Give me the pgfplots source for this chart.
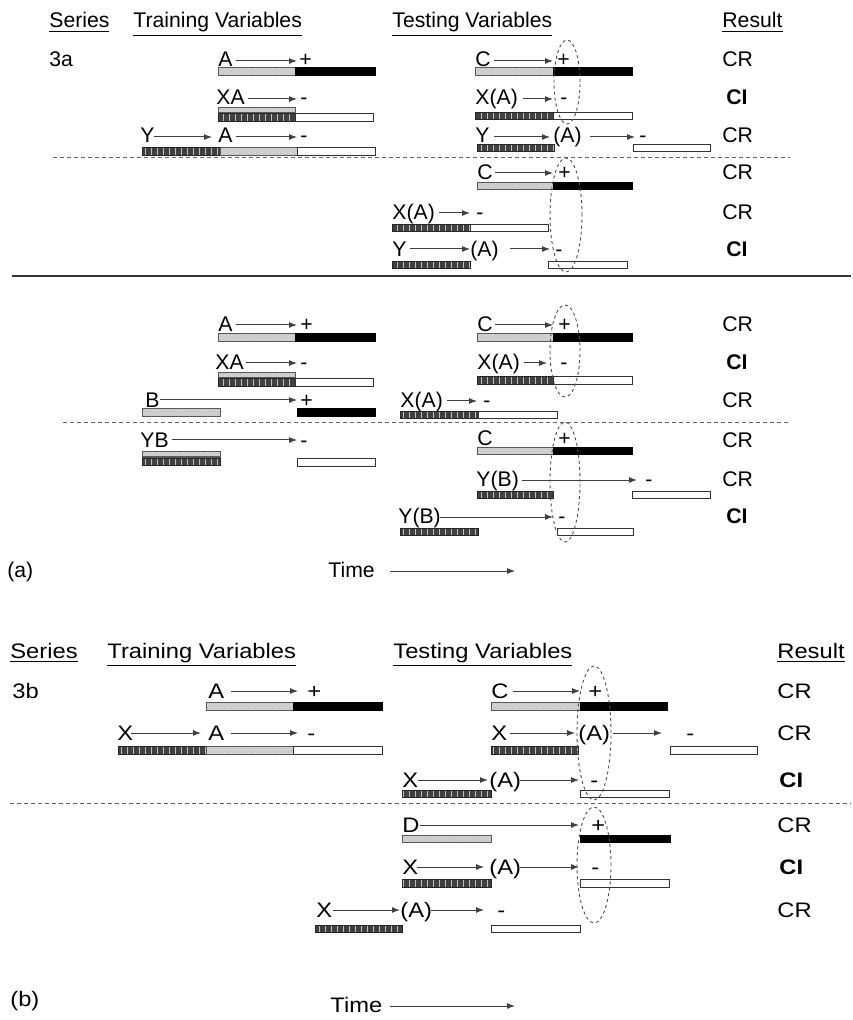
\documentclass[border=0pt]{standalone}
\usepackage{pgfplots}
\pgfplotsset{compat=1.18}
\usepackage{graphicx}
\usepackage{fontspec}
\setmainfont{Liberation Sans}
\usetikzlibrary{patterns,arrows.meta}
\tikzset{oval/.style={black!70, dash pattern=on 1.5pt off 1.5pt, line width=0.45pt}}

% text for panel (a) and the wider panel (b)
\newcommand{\ta}[3]{\node[anchor=base west,inner sep=0pt,font=\fontsize{10.6}{12}\selectfont] at (axis cs:#1,#2) {#3};}
\newcommand{\tb}[3]{\node[anchor=base west,inner sep=0pt,font=\fontsize{10.5}{12}\selectfont] at (axis cs:#1,#2) {\scalebox{1.13}[1]{#3}};}
% bar: style, x1, x2, y1, y2
\newcommand{\bx}[5]{\addplot[#1] coordinates {(#2,#4) (#3,#4) (#3,#5) (#2,#5)} -- cycle;}
% arrow: x1, x2, y
\newcommand{\ar}[3]{\addplot[arr] coordinates {(#1,#3) (#2,#3)};}

\begin{document}
\begin{tikzpicture}
\begin{axis}[
  scale only axis, width=425.5pt, height=510pt,
  xmin=0, xmax=851, ymin=0, ymax=1020, y dir=reverse,
  hide axis, clip=false, no markers,
  lbar/.style={draw=black!65, fill=black!20, line width=0.5pt,
    postaction={pattern=crosshatch dots, pattern color=white!85!black}},
  dbar/.style={draw=black!85, fill=black!75, line width=0.5pt,
    postaction={pattern=vertical lines, pattern color=white!75!black}},
  bbar/.style={draw=black, fill=black, line width=0.5pt},
  wbar/.style={draw=black!80, fill=white, line width=0.5pt},
  arr/.style={black!75, line width=0.5pt, -{Latex[length=4pt,width=3pt]}},
  sep/.style={black!60, dash pattern=on 2pt off 1.5pt, line width=0.5pt},
]
\addplot[draw=none] coordinates {(0,0) (851,1020)};

%% ---------------- panel (a) ----------------
\ta{49}{28}{\underline{Series}}
\ta{133}{28}{\underline{Training Variables}}
\ta{392}{28}{\underline{Testing Variables}}
\ta{722}{28}{\underline{Result}}
\ta{49}{67}{3a}

% row 1
\ta{218}{67}{A} \ar{236}{297}{61} \ta{299}{67}{+}
\bx{lbar}{218}{295}{68}{76} \bx{bbar}{295}{375}{68}{76}
\ta{475}{67}{C} \ar{494}{553}{61} \ta{557}{67}{+}
\bx{lbar}{475}{553}{68}{76} \bx{bbar}{553}{632}{68}{76}
\ta{722}{67}{CR}
% row 2
\ta{216}{105}{XA} \ar{248}{297}{99} \ta{300}{105}{-}
\bx{lbar}{218}{295}{108}{113} \bx{dbar}{218}{295}{114}{122} \bx{wbar}{295}{373}{114}{122}
\ta{475}{105}{X(A)} \ar{523}{553}{99} \ta{560}{105}{-}
\bx{dbar}{475}{553}{113}{120} \bx{wbar}{553}{632}{113}{120}
\ta{726}{105}{\bfseries CI}
% row 3
\ta{140}{143}{Y} \ar{154}{212}{137} \ta{218}{143}{A} \ar{236}{297}{137} \ta{300}{143}{-}
\bx{dbar}{142}{220}{148}{156} \bx{lbar}{220}{297}{148}{156} \bx{wbar}{297}{375}{148}{156}
\ta{475}{143}{Y} \ar{494}{550}{137} \ta{553}{143}{(A)} \ar{590}{635}{137} \ta{639}{143}{-}
\bx{dbar}{477}{554}{145}{152} \bx{wbar}{633}{710}{145}{152}
\ta{722}{143}{CR}

\addplot[sep] coordinates {(53,158) (790,158)};

% row 4
\ta{477}{180}{C} \ar{495}{553}{173} \ta{558}{180}{+}
\bx{lbar}{477}{553}{183}{190} \bx{bbar}{553}{632}{183}{190}
\ta{722}{180}{CR}
% row 5
\ta{392}{220}{X(A)} \ar{439}{470}{213} \ta{476}{220}{-}
\bx{dbar}{392}{470}{225}{232} \bx{wbar}{470}{548}{225}{232}
\ta{722}{220}{CR}
% row 6
\ta{392}{257}{Y} \ar{410}{470}{249} \ta{470}{257}{(A)} \ar{510}{550}{249} \ta{555}{257}{-}
\bx{dbar}{392}{470}{262}{269} \bx{wbar}{548}{627}{262}{269}
\ta{726}{257}{\bfseries CI}

\draw[oval] (axis cs:567,82) ellipse [x radius=6.5pt, y radius=21pt];
\draw[oval] (axis cs:566,215) ellipse [x radius=8pt, y radius=28.5pt];

\addplot[black!80, line width=1pt] coordinates {(12,276) (851,276)};

% row 7
\ta{218}{332}{A} \ar{236}{297}{325} \ta{300}{332}{+}
\bx{lbar}{218}{295}{334}{342} \bx{bbar}{295}{375}{334}{342}
\ta{477}{332}{C} \ar{495}{553}{325} \ta{558}{332}{+}
\bx{lbar}{477}{553}{334}{342} \bx{bbar}{553}{632}{334}{342}
\ta{722}{332}{CR}
% row 8
\ta{215}{370}{XA} \ar{246}{297}{363} \ta{300}{370}{-}
\bx{lbar}{218}{295}{373}{378} \bx{dbar}{218}{295}{379}{387} \bx{wbar}{295}{373}{379}{387}
\ta{477}{370}{X(A)} \ar{524}{547}{363} \ta{560}{370}{-}
\bx{dbar}{477}{553}{377}{385} \bx{wbar}{553}{632}{377}{385}
\ta{726}{370}{\bfseries CI}
% row 9
\ta{145}{408}{B} \ar{160}{297}{400} \ta{300}{408}{+}
\bx{lbar}{142}{220}{409}{417} \bx{bbar}{297}{375}{409}{417}
\ta{400}{408}{X(A)} \ar{447}{477}{401} \ta{483}{408}{-}
\bx{dbar}{400}{478}{412}{419} \bx{wbar}{478}{557}{412}{419}
\ta{722}{408}{CR}

\addplot[sep] coordinates {(63,423) (790,423)};

% row 10
\ta{140}{447}{YB} \ar{172}{297}{440} \ta{300}{447}{-}
\bx{lbar}{142}{220}{452}{457} \bx{dbar}{142}{220}{458}{465} \bx{wbar}{297}{375}{458}{466}
\ta{477}{445}{C} \ta{558}{445}{+}
\bx{lbar}{477}{553}{448}{455} \bx{bbar}{553}{632}{448}{455}
\ta{722}{447}{CR}
% row 11
\ta{476}{487}{Y(B)} \ar{522}{637}{480} \ta{645}{487}{-}
\bx{dbar}{477}{553}{491}{498} \bx{wbar}{632}{710}{491}{498}
\ta{722}{487}{CR}
% row 12
\ta{398}{523}{Y(B)} \ar{440}{553}{517} \ta{558}{523}{-}
\bx{dbar}{400}{478}{528}{535} \bx{wbar}{557}{633}{528}{535}
\ta{726}{523}{\bfseries CI}

\draw[oval] (axis cs:565,351) ellipse [x radius=7.5pt, y radius=23pt];
\draw[oval] (axis cs:565,482) ellipse [x radius=7.5pt, y radius=30pt];

\ta{7}{577}{(a)}
\ta{328}{577}{Time}
\ar{390}{515}{571}

%% ---------------- panel (b) ----------------
\tb{10}{658}{\underline{Series}}
\tb{107}{658}{\underline{Training Variables}}
\tb{393}{658}{\underline{Testing Variables}}
\tb{777}{658}{\underline{Result}}
\tb{12}{698}{3b}

% row 1
\tb{208}{698}{A} \ar{231}{298}{691} \tb{307}{698}{+}
\bx{lbar}{206}{293}{702}{710} \bx{bbar}{293}{382}{702}{710}
\tb{491}{698}{C} \ar{513}{580}{691} \tb{588}{698}{+}
\bx{lbar}{491}{580}{702}{710} \bx{bbar}{580}{667}{702}{710}
\tb{777}{698}{CR}
% row 2
\tb{117}{740}{X} \ar{131}{201}{733} \tb{208}{740}{A} \ar{231}{298}{733} \tb{307}{740}{-}
\bx{dbar}{118}{206}{746}{754} \bx{lbar}{206}{293}{746}{754} \bx{wbar}{293}{382}{746}{754}
\tb{491}{740}{X} \ar{510}{575}{733} \tb{578}{740}{(A)} \ar{613}{662}{733} \tb{686}{740}{-}
\bx{dbar}{491}{578}{746}{754} \bx{wbar}{670}{757}{746}{754}
\tb{777}{740}{CR}
% row 3
\tb{402}{787}{X} \ar{418}{488}{780} \tb{489}{787}{(A)} \ar{520}{579}{780} \tb{590}{787}{-}
\bx{dbar}{402}{491}{790}{797} \bx{wbar}{580}{669}{790}{797}
\tb{779}{787}{\bfseries CI}

\addplot[sep] coordinates {(10,803) (851,803)};

% row 4
\tb{402}{832}{D} \ar{420}{579}{825} \tb{591}{832}{+}
\bx{lbar}{402}{491}{835}{842} \bx{bbar}{580}{670}{835}{842}
\tb{777}{832}{CR}
% row 5
\tb{402}{874}{X} \ar{417}{484}{867} \tb{489}{874}{(A)} \ar{520}{579}{867} \tb{591}{874}{-}
\bx{dbar}{402}{491}{879}{887} \bx{wbar}{580}{669}{879}{887}
\tb{779}{874}{\bfseries CI}
% row 6
\tb{316}{917}{X} \ar{333}{400}{910} \tb{400}{917}{(A)} \ar{431}{484}{910} \tb{497}{917}{-}
\bx{dbar}{315}{402}{925}{932} \bx{wbar}{491}{580}{925}{932}
\tb{777}{917}{CR}

\draw[oval] (axis cs:594,733) ellipse [x radius=8.5pt, y radius=33.5pt];
\draw[oval] (axis cs:594,865) ellipse [x radius=8.5pt, y radius=29pt];

\tb{10}{1006}{(b)}
\tb{330}{1012}{Time}
\ar{390}{515}{1006}
\end{axis}
\end{tikzpicture}
\end{document}
